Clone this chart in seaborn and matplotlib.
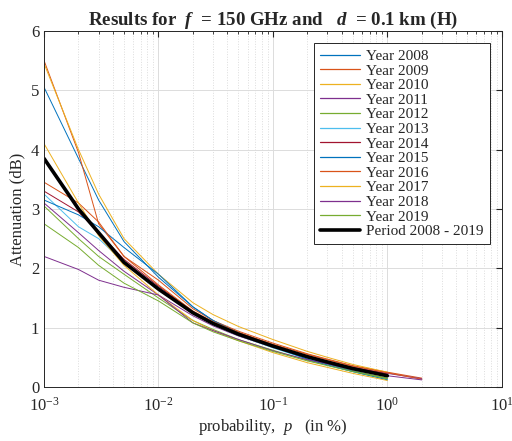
import matplotlib
matplotlib.use("Agg")
import matplotlib.pyplot as plt
from matplotlib.lines import Line2D
import seaborn as sns
import pandas as pd
import numpy as np

# probability levels (in %)
p_levels = [0.001, 0.002, 0.003, 0.005, 0.01, 0.02, 0.03, 0.05, 0.1, 0.2, 0.3, 0.5, 1, 2]

years = ["2008", "2009", "2010", "2011", "2012", "2013",
         "2014", "2015", "2016", "2017", "2018", "2019"]

att_2008 = [5.05, 3.85, 3.15, 2.45, 1.85, 1.35, 1.12, 0.92, 0.69, 0.49, 0.39, 0.27, 0.14]
att_2009 = [5.50, 3.95, 2.75, 2.20, 1.80, 1.32, 1.12, 0.94, 0.74, 0.56, 0.47, 0.36, 0.25, 0.15]
att_2010 = [5.45, 4.00, 3.25, 2.50, 1.90, 1.42, 1.22, 1.02, 0.80, 0.60, 0.50, 0.38, 0.25]
att_2011 = [3.10, 2.60, 2.30, 1.95, 1.55, 1.20, 1.03, 0.86, 0.67, 0.51, 0.43, 0.33, 0.23, 0.14]
att_2012 = [3.05, 2.50, 2.20, 1.90, 1.50, 1.12, 0.97, 0.80, 0.62, 0.45, 0.37, 0.27, 0.15]
att_2013 = [3.25, 2.70, 2.50, 2.10, 1.68, 1.25, 1.05, 0.87, 0.66, 0.47, 0.37, 0.26, 0.13]
att_2014 = [3.30, 2.95, 2.60, 2.15, 1.70, 1.27, 1.08, 0.90, 0.70, 0.53, 0.44, 0.33, 0.22]
att_2015 = [3.15, 2.90, 2.70, 2.35, 1.90, 1.35, 1.12, 0.91, 0.68, 0.47, 0.37, 0.26, 0.12]
att_2016 = [3.45, 3.10, 2.78, 2.20, 1.72, 1.28, 1.10, 0.92, 0.72, 0.55, 0.46, 0.35, 0.24, 0.13]
att_2017 = [4.10, 3.10, 2.55, 2.05, 1.55, 1.12, 0.95, 0.78, 0.58, 0.41, 0.33, 0.23, 0.11]
att_2018 = [2.20, 1.98, 1.80, 1.68, 1.55, 1.08, 0.95, 0.80, 0.61, 0.46, 0.39, 0.29, 0.19, 0.12]
att_2019 = [2.75, 2.35, 2.05, 1.75, 1.45, 1.08, 0.93, 0.78, 0.60, 0.44, 0.36, 0.26, 0.14]

att_period = [3.85, 3.00, 2.60, 2.10, 1.65, 1.25, 1.07, 0.89, 0.69, 0.51, 0.42, 0.31, 0.19]

year_data = [att_2008, att_2009, att_2010, att_2011, att_2012, att_2013,
             att_2014, att_2015, att_2016, att_2017, att_2018, att_2019]

matlab_colors = ["#0072BD", "#D95319", "#EDB120", "#7E2F8E", "#77AC30", "#4DBEEE",
                 "#A2142F", "#0072BD", "#D95319", "#EDB120", "#7E2F8E", "#77AC30"]

rows = []
for yr, vals in zip(years, year_data):
    for p, v in zip(p_levels, vals):
        rows.append({"p": p, "att": v, "series": "Year " + yr})
df = pd.DataFrame(rows)
df_period = pd.DataFrame({"p": p_levels[:len(att_period)], "att": att_period,
                          "series": "Period 2008 - 2019"})
labels = ["Year " + y for y in years]

sns.set_style("white")
plt.rcParams["font.family"] = ["Liberation Serif", "DejaVu Serif"]
plt.rcParams["mathtext.fontset"] = "custom"
plt.rcParams["mathtext.rm"] = "Liberation Serif"
plt.rcParams["mathtext.it"] = "Liberation Serif:italic"
plt.rcParams["mathtext.bf"] = "Liberation Serif:bold"
plt.rcParams["mathtext.bfit"] = "Liberation Serif:italic:bold"

fig = plt.figure(figsize=(5.12, 4.41), dpi=100)
ax = fig.add_axes([0.086, 0.1224, 0.894, 0.8076])

sns.lineplot(data=df, x="p", y="att", hue="series", hue_order=labels,
             palette=dict(zip(labels, matlab_colors)),
             linewidth=0.7, ax=ax, sort=False, estimator=None, legend=False)
sns.lineplot(data=df_period, x="p", y="att", color="black",
             linewidth=2.6, ax=ax, sort=False, estimator=None, legend=False)

ax.set_xscale("log")
ax.set_xlim(1e-3, 1e1)
ax.set_ylim(0, 6)
ax.set_yticks(range(0, 7))
ax.grid(True, which="major", color="#dcdcdc", linewidth=0.7)
ax.grid(True, which="minor", axis="x", color="#dcdcdc", linestyle=":", linewidth=0.7)
ax.tick_params(which="both", direction="in", top=True, right=True, labelsize=12,
               color="#262626")
ax.tick_params(which="major", length=4)
ax.tick_params(which="minor", length=2)
ax.tick_params(axis="x", which="major", pad=7)
for s in ax.spines.values():
    s.set_color("#262626")
    s.set_linewidth(0.7)

ax.set_title(r"Results for  $\mathbfit{f}$  = 150 GHz and   $\mathbfit{d}$  = 0.1 km (H)",
             fontsize=13.6, fontweight="bold", pad=4)
ax.set_xlabel(r"probability,  $\it{p}$   (in %)", fontsize=12, labelpad=2)
ax.set_ylabel("Attenuation (dB)", fontsize=12, labelpad=4)

handles = [Line2D([], [], color=c, linewidth=0.9) for c in matlab_colors]
handles.append(Line2D([], [], color="black", linewidth=2.6))
leg = ax.legend(handles, labels + ["Period 2008 - 2019"], loc="upper right",
                fontsize=11, handlelength=2.6, labelspacing=0.06,
                handletextpad=0.4, borderaxespad=0.8, fancybox=False, framealpha=1,
                edgecolor="#262626")
leg.get_frame().set_linewidth(0.7)

fig.savefig("out.png", dpi=100)
